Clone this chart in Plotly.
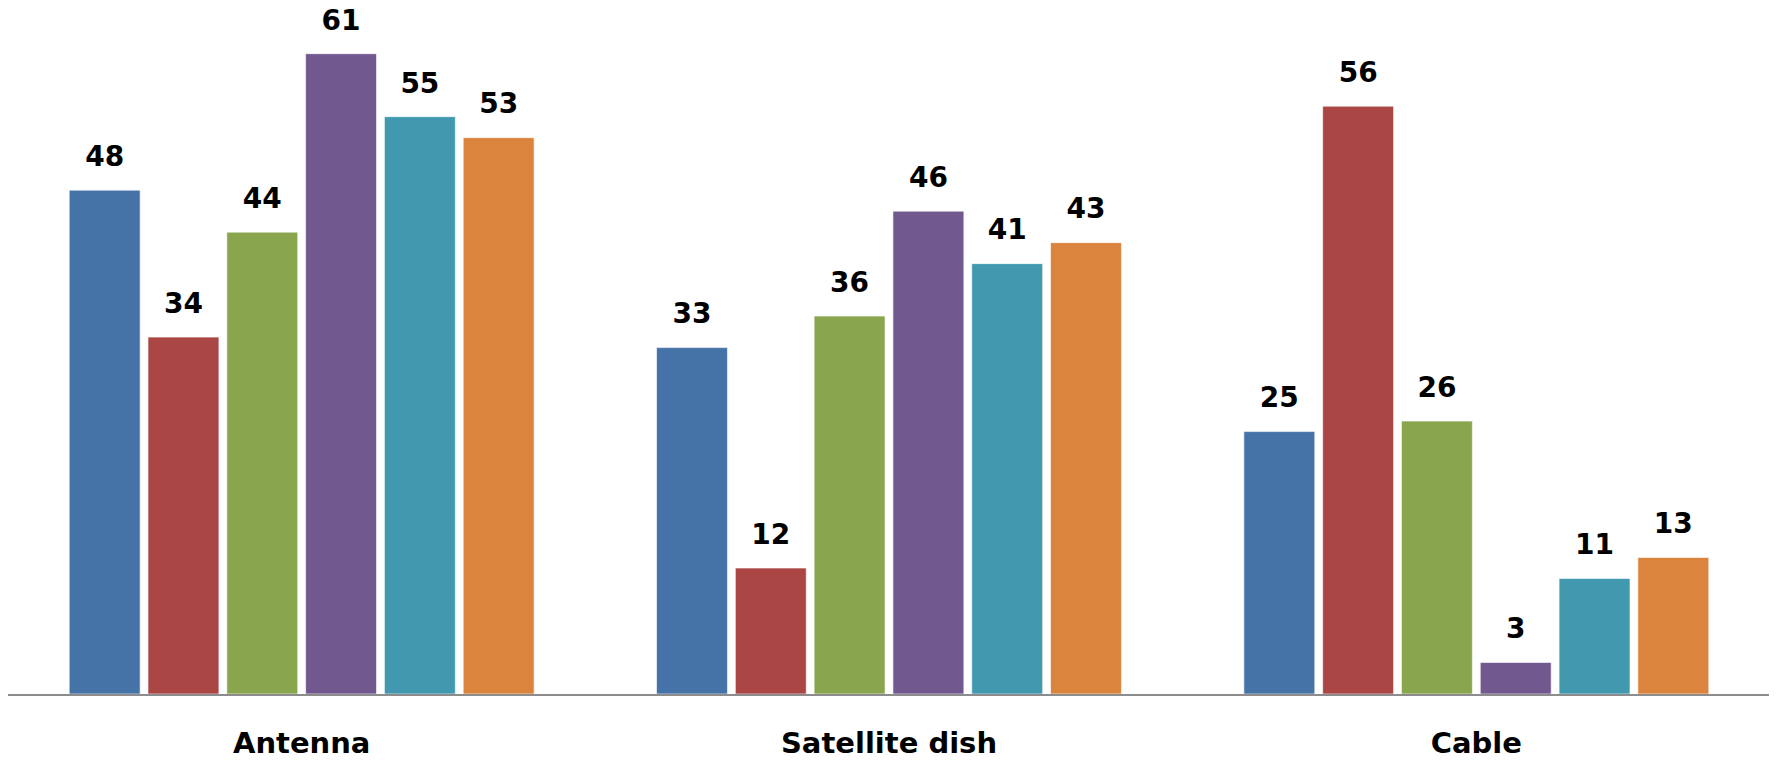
import plotly.graph_objects as go

categories = ["Antenna", "Satellite dish", "Cable"]
series_names = ["Series 1", "Series 2", "Series 3", "Series 4", "Series 5", "Series 6"]
s1 = [48, 33, 25]
s2 = [34, 12, 56]
s3 = [44, 36, 26]
s4 = [61, 46, 3]
s5 = [55, 41, 11]
s6 = [53, 43, 13]
series_values = [s1, s2, s3, s4, s5, s6]
colors = ["#4572A7", "#AA4643", "#89A54E", "#71588F", "#4198AF", "#DB843D"]

LABEL_GAP = 1.35  # extra lift (data units) for value labels
FONT = "DejaVu Sans"

fig = go.Figure()
for i, (name, vals, col) in enumerate(zip(series_names, series_values, colors)):
    fig.add_trace(go.Bar(
        x=categories, y=vals, name=name, offsetgroup=str(i),
        marker=dict(color=col, line=dict(color="rgba(255,255,255,0.6)", width=1)),
        hoverinfo="x+y",
    ))
    # invisible spacer bar carrying the value label
    fig.add_trace(go.Bar(
        x=categories, y=[LABEL_GAP] * len(vals), base=vals, offsetgroup=str(i),
        marker=dict(color="rgba(0,0,0,0)", line=dict(width=0)),
        text=[str(v) for v in vals], textposition="outside",
        textfont=dict(family=FONT, size=28, color="#000000", weight="bold"),
        cliponaxis=False, hoverinfo="skip", showlegend=False,
    ))

fig.update_layout(
    barmode="group", bargap=0.195, bargroupgap=0.1,
    width=1777, height=761,
    margin=dict(l=0, r=15, t=10, b=75),
    plot_bgcolor="white", paper_bgcolor="white",
    showlegend=False,
    font=dict(family=FONT, color="#000000"),
    xaxis=dict(
        showline=True, linecolor="#8C8C8C", linewidth=1.5,
        showgrid=False, ticks="", ticklabelstandoff=22,
        tickfont=dict(family=FONT, size=29, color="#000000", weight="bold"),
    ),
    yaxis=dict(range=[0, 64.4], visible=False, showgrid=False),
)

fig.write_html("out.html")
